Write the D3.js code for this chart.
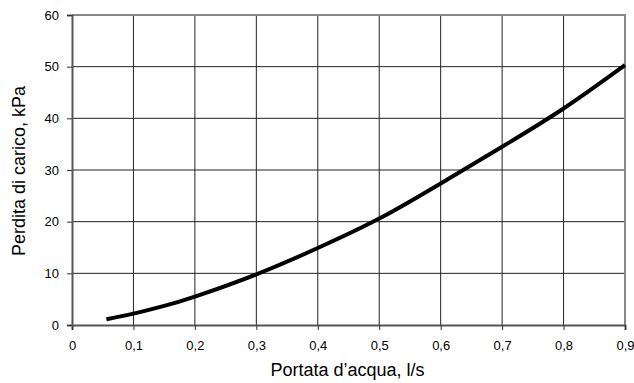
<!DOCTYPE html>
<html>
<head>
<meta charset="utf-8">
<script src="https://cdn.jsdelivr.net/npm/d3@7"></script>
<style>
  html, body { margin: 0; padding: 0; background: #fff; }
  svg { display: block; font-family: "Liberation Sans", Arial, sans-serif; }
</style>
</head>
<body>
<svg id="chart" width="634" height="383"></svg>
<script>
// Flow rate (l/s) and pressure drop (kPa)
const flowRates = [0.056, 0.1, 0.15, 0.2, 0.3, 0.4, 0.5, 0.6, 0.7, 0.8, 0.9];
const pressureDrops = [1.1, 2.2, 3.7, 5.5, 9.8, 14.9, 20.6, 27.4, 34.5, 41.9, 50.3];
const xTicks = [0, 0.1, 0.2, 0.3, 0.4, 0.5, 0.6, 0.7, 0.8, 0.9];
const yTicks = [0, 10, 20, 30, 40, 50, 60];
const xTitle = "Portata d\u2019acqua, l/s";
const yTitle = "Perdita di carico, kPa";

const svg = d3.select("#chart");
const m = { left: 72, right: 625, top: 15, bottom: 325 };

const x = d3.scaleLinear().domain([0, 0.9]).range([m.left, m.right]);
const y = d3.scaleLinear().domain([0, 60]).range([m.bottom, m.top]);

const fmt = d => d === 0 ? "0" : d3.format(".1f")(d).replace(".", ",");

// grid
const grid = svg.append("g");
grid.selectAll("line.v").data(xTicks.filter(d => d > 0 && d < 0.9)).enter()
  .append("line")
  .attr("x1", d => x(d)).attr("x2", d => x(d))
  .attr("y1", m.top).attr("y2", m.bottom)
  .attr("stroke", "#222").attr("stroke-width", 1);
grid.selectAll("line.h").data(yTicks.filter(d => d > 0 && d < 60)).enter()
  .append("line")
  .attr("x1", m.left).attr("x2", m.right)
  .attr("y1", d => y(d)).attr("y2", d => y(d))
  .attr("stroke", "#222").attr("stroke-width", 1);

// frame: top and right
svg.append("path")
  .attr("d", `M${m.left},${m.top}H${m.right}V${m.bottom}`)
  .attr("fill", "none").attr("stroke", "#888").attr("stroke-width", 2);

// axes
const xAxis = svg.append("g")
  .attr("transform", `translate(0,${m.bottom})`)
  .call(d3.axisBottom(x).tickValues(xTicks).tickFormat(fmt).tickSize(5).tickPadding(11));
const yAxis = svg.append("g")
  .attr("transform", `translate(${m.left},0)`)
  .call(d3.axisLeft(y).tickValues(yTicks).tickSize(5).tickPadding(8));

[xAxis, yAxis].forEach(a => {
  a.select(".domain").attr("stroke", "#555").attr("stroke-width", 2);
  a.selectAll(".tick line").attr("stroke", "#333").attr("stroke-width", 1);
  a.selectAll(".tick text").attr("fill", "#000").style("font-size", "13px")
    .style("font-family", "Liberation Sans, Arial, sans-serif");
});

// curve
const pts = flowRates.map((f, i) => [f, pressureDrops[i]]);
svg.append("path")
  .datum(pts)
  .attr("fill", "none")
  .attr("stroke", "#000")
  .attr("stroke-width", 4)
  .attr("d", d3.line().x(d => x(d[0])).y(d => y(d[1])).curve(d3.curveNatural));

// titles
svg.append("text")
  .attr("x", (m.left + m.right) / 2 - 1).attr("y", 376)
  .attr("text-anchor", "middle")
  .style("font-size", "18px")
  .text(xTitle);
svg.append("text")
  .attr("transform", `translate(25,${(m.top + m.bottom) / 2 + 1}) rotate(-90)`)
  .attr("text-anchor", "middle")
  .style("font-size", "18px")
  .text(yTitle);
</script>
</body>
</html>
